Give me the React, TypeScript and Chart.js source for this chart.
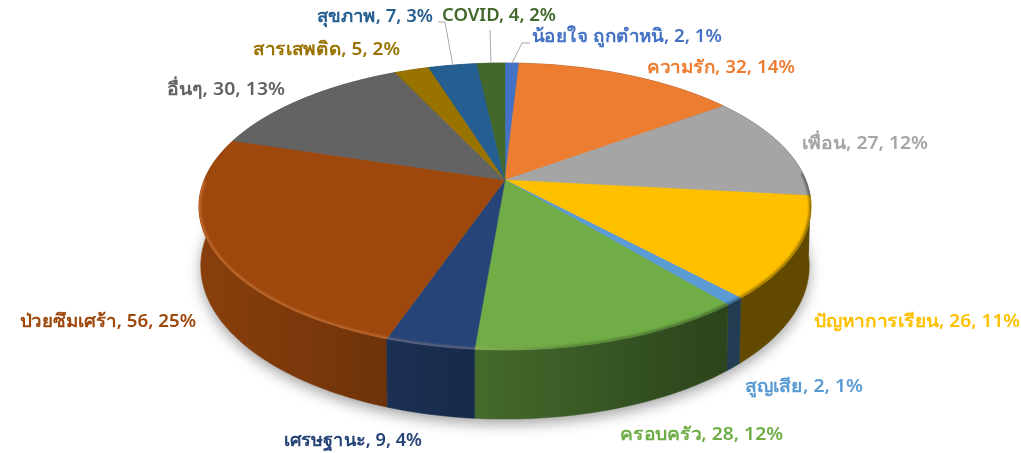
import React, { useEffect, useRef } from "react";
import { Chart, registerables } from "chart.js";

Chart.register(...registerables);

const categories = ["น้อยใจ ถูกตำหนิ", "ความรัก", "เพื่อน", "ปัญหาการเรียน", "สูญเสีย", "ครอบครัว", "เศรษฐานะ", "ป่วยซึมเศร้า", "อื่นๆ", "สารเสพติด", "สุขภาพ", "COVID"];
const counts = [2, 32, 27, 26, 2, 28, 9, 56, 30, 5, 7, 4];
const percents = [1, 14, 12, 11, 1, 12, 4, 25, 13, 2, 3, 2];
const colors = ["#4472c4", "#ed7d31", "#a5a5a5", "#ffc000", "#5b9bd5", "#70ad47", "#264478", "#9e480e", "#636363", "#997300", "#255e91", "#43682b"];

// layout only: left x, left-to-right width, middle y of each label
const labelBoxes = [
  [532, 190, 37], [647, 148, 68], [802, 126, 144], [814, 206, 322],
  [745, 118, 387], [620, 163, 435], [284, 138, 441], [20, 176, 322],
  [167, 118, 90], [253, 147, 50], [317, 116, 17], [442, 114, 16],
];
// layout only: index of slice -> leader bend points starting near the label
const leaders: Record<number, number[][]> = {
  0: [[530, 43], [522, 43]],
  10: [[438, 22], [445, 22]],
  11: [[490, 30]],
};

const CX = 505, CY = 180, RX = 300.8, RY = 138.6, P = 0.185;
const CY2 = 237.5, RX2 = 299, RY2 = 148;

const top = (a: number) => {
  const u = Math.cos(a), v = Math.sin(a), w = 1 - P * v;
  return [CX + (RX * u) / w, CY + (RY * v) / w];
};
const bottom = (a: number) => {
  const u = Math.cos(a), v = Math.sin(a), w = 1 - P * v;
  return [CX + (RX2 * u) / w, CY2 + (RY2 * v) / w];
};
const shade = (hex: string, f: number) => {
  const n = parseInt(hex.slice(1), 16);
  return `rgb(${((n >> 16) & 255) * f},${((n >> 8) & 255) * f},${(n & 255) * f})`;
};
const samples = (a0: number, a1: number) => {
  const n = Math.max(2, Math.ceil((a1 - a0) / 0.02));
  const out: number[] = [];
  for (let i = 0; i <= n; i++) out.push(a0 + ((a1 - a0) * i) / n);
  return out;
};
const wallFactor = (x: number) => Math.max(0.38, 0.87 - (x - 200) * 0.00092);

const pie3d = {
  id: "pie3d",
  beforeDatasetDraw(chart: any) {
    const ctx: CanvasRenderingContext2D = chart.ctx;
    const arcs = chart.getDatasetMeta(0).data as any[];
    const full = samples(0, Math.PI * 2);

    ctx.save();
    ctx.filter = "blur(7px)";
    ctx.fillStyle = "rgba(0,0,0,0.36)";
    ctx.beginPath();
    full.forEach((a, i) => {
      const [x, y] = bottom(a);
      i ? ctx.lineTo(x, y + 5) : ctx.moveTo(x, y + 5);
    });
    ctx.closePath();
    ctx.fill();
    ctx.restore();

    const order = arcs
      .map((arc, i) => ({ arc, i }))
      .sort((p, q) => Math.sin((p.arc.startAngle + p.arc.endAngle) / 2) - Math.sin((q.arc.startAngle + q.arc.endAngle) / 2));
    order.forEach(({ arc, i }) => {
      const g = ctx.createLinearGradient(200, 0, 810, 0);
      for (let s = 0; s <= 10; s++) g.addColorStop(s / 10, shade(colors[i], wallFactor(200 + 61 * s)));
      const pts = samples(arc.startAngle, arc.endAngle);
      ctx.fillStyle = g;
      ctx.strokeStyle = g;
      ctx.lineWidth = 0.5;
      ctx.beginPath();
      pts.forEach((a, k) => {
        const [x, y] = top(a);
        k ? ctx.lineTo(x, y) : ctx.moveTo(x, y);
      });
      [...pts].reverse().forEach((a) => {
        const [x, y] = bottom(a);
        ctx.lineTo(x, y);
      });
      ctx.closePath();
      ctx.fill();
      ctx.stroke();
    });

    arcs.forEach((arc, i) => {
      ctx.fillStyle = colors[i];
      ctx.strokeStyle = colors[i];
      ctx.lineWidth = 0.5;
      ctx.beginPath();
      ctx.moveTo(CX, CY);
      samples(arc.startAngle, arc.endAngle).forEach((a) => {
        const [x, y] = top(a);
        ctx.lineTo(x, y);
      });
      ctx.closePath();
      ctx.fill();
      ctx.stroke();
    });

    const rim = ctx.createLinearGradient(200, 0, 810, 0);
    rim.addColorStop(0, "rgba(255,170,100,0.36)");
    rim.addColorStop(0.45, "rgba(255,190,140,0.26)");
    rim.addColorStop(0.62, "rgba(0,0,0,0.22)");
    rim.addColorStop(1, "rgba(0,0,0,0.42)");
    ctx.save();
    ctx.beginPath();
    full.forEach((a, i) => {
      const [x, y] = top(a);
      i ? ctx.lineTo(x, y) : ctx.moveTo(x, y);
    });
    ctx.closePath();
    ctx.clip();
    ctx.filter = "blur(1px)";
    ctx.strokeStyle = rim;
    ctx.lineWidth = 4;
    ctx.beginPath();
    samples(-0.05, Math.PI).forEach((a, i) => {
      const [x, y] = top(a);
      i ? ctx.lineTo(x, y) : ctx.moveTo(x, y);
    });
    ctx.stroke();
    ctx.restore();

    return false;
  },
  afterDraw(chart: any) {
    const ctx: CanvasRenderingContext2D = chart.ctx;
    const arcs = chart.getDatasetMeta(0).data as any[];
    ctx.save();
    ctx.strokeStyle = "#a6a6a6";
    ctx.lineWidth = 1;
    Object.keys(leaders).forEach((key) => {
      const i = Number(key);
      const [ex, ey] = top((arcs[i].startAngle + arcs[i].endAngle) / 2);
      ctx.beginPath();
      leaders[i].forEach(([x, y], k) => (k ? ctx.lineTo(x, y) : ctx.moveTo(x, y)));
      ctx.lineTo(ex, ey);
      ctx.stroke();
    });
    ctx.textBaseline = "middle";
    ctx.textAlign = "left";
    ctx.font = "600 18px 'Noto Sans', 'Open Sans', sans-serif";
    categories.forEach((name, i) => {
      const text = `${name}, ${counts[i]}, ${percents[i]}%`;
      const [x, w, y] = labelBoxes[i];
      const natural = ctx.measureText(text).width;
      ctx.fillStyle = colors[i];
      ctx.save();
      ctx.translate(x, y);
      ctx.scale(w / natural, 1);
      ctx.fillText(text, 0, 0);
      ctx.restore();
    });
    ctx.restore();
  },
};

export default function App() {
  const ref = useRef<HTMLCanvasElement>(null);
  useEffect(() => {
    document.body.style.margin = "0";
    const chart = new Chart(ref.current!, {
      type: "pie",
      data: { labels: categories, datasets: [{ data: counts, backgroundColor: colors, borderWidth: 0 }] },
      options: {
        responsive: false,
        animation: false,
        plugins: { legend: { display: false }, tooltip: { enabled: false } },
      },
      plugins: [pie3d],
    } as any);
    return () => chart.destroy();
  }, []);
  return <canvas ref={ref} width={1021} height={453} style={{ display: "block" }} />;
}
